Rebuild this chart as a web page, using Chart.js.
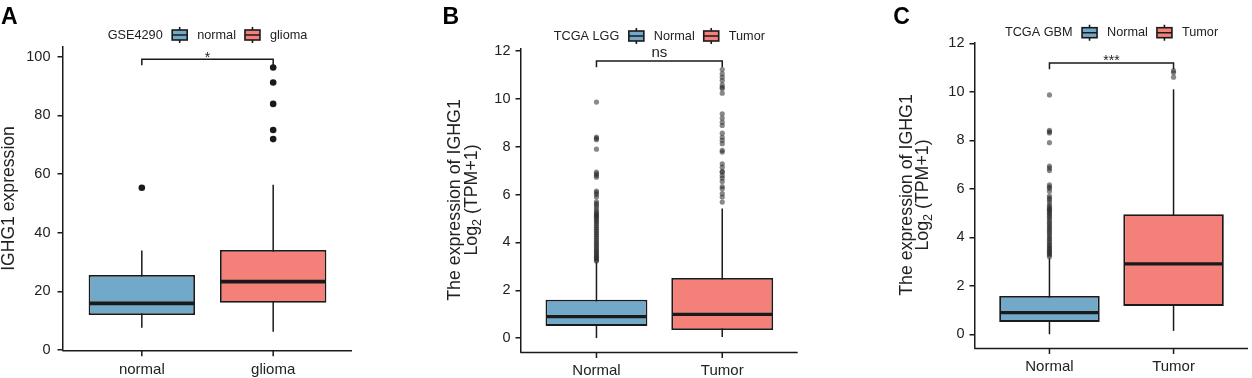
<!DOCTYPE html>
<html>
<head>
<meta charset="utf-8">
<script src="https://cdn.jsdelivr.net/npm/chart.js@4.4.1/dist/chart.umd.min.js"></script>
<style>
html, body { margin: 0; padding: 0; background: #fff; }
#wrap { position: relative; width: 1252px; height: 378px; }
canvas { position: absolute; top: 0; }
</style>
</head>
<body>
<div id="wrap">
  <canvas id="panelA" width="420" height="378" style="left:0px"></canvas>
  <canvas id="panelB" width="420" height="378" style="left:420px"></canvas>
  <canvas id="panelC" width="412" height="378" style="left:840px"></canvas>
</div>
<script>
// ---------- data ----------

// A: GSE4290
const gseCategories = ['normal', 'glioma'];
const gseQ1 = [11.9, 16.1];
const gseMedian = [15.9, 23.3];
const gseQ3 = [25.6, 34.1];
const gseLower = [7.6, 6.2];
const gseUpper = [33.9, 56.3];
const gseOutNormal = [55.3];
const gseOutGlioma = [96.3, 91.2, 83.9, 75.0, 71.9];
const gseYTicks = [0, 20, 40, 60, 80, 100];

// B: TCGA LGG
const lggCategories = ['Normal', 'Tumor'];
const lggQ1 = [0.51, 0.34];
const lggMedian = [0.9, 0.99];
const lggQ3 = [1.6, 2.51];
const lggLower = [0.0, 0.05];
const lggUpper = [3.18, 5.42];
const lggOutNormal = [9.87, 8.41, 8.35, 8.3, 7.9, 6.94, 6.87, 6.8, 6.73, 6.15, 6.08, 6.0, 5.9,
  5.7, 5.62, 5.55, 5.45, 5.34, 5.27, 5.2, 5.15, 5.1, 5.05, 4.98, 4.92, 4.85, 4.78, 4.7, 4.62,
  4.55, 4.47, 4.4, 4.33, 4.25, 4.18, 4.1, 4.02, 3.95, 3.88, 3.8, 3.73, 3.66, 3.6, 3.54, 3.48,
  3.42, 3.37, 3.32, 3.27, 3.22];
const lggOutTumor = [11.23, 11.05, 10.91, 10.77, 10.59, 10.49, 10.43, 10.24, 9.38, 9.2, 9.03,
  8.89, 8.57, 8.4, 8.27, 8.13, 7.85, 7.78, 7.29, 7.15, 6.97, 6.94, 6.8, 6.69, 6.55, 6.34, 6.25,
  6.04, 5.9, 5.69];
const lggYTicks = [0, 2, 4, 6, 8, 10, 12];

// C: TCGA GBM
const gbmCategories = ['Normal', 'Tumor'];
const gbmQ1 = [0.51, 1.17];
const gbmMedian = [0.89, 2.9];
const gbmQ3 = [1.58, 4.95];
const gbmLower = [0.0, 0.14];
const gbmUpper = [3.13, 10.1];
const gbmOutNormal = [9.87, 8.41, 8.35, 8.3, 7.9, 6.94, 6.85, 6.75, 6.16, 6.08, 6.02, 5.9,
  5.7, 5.62, 5.55, 5.45, 5.34, 5.27, 5.2, 5.15, 5.1, 5.05, 4.98, 4.92, 4.85, 4.78, 4.7, 4.62,
  4.55, 4.47, 4.4, 4.33, 4.25, 4.18, 4.1, 4.02, 3.95, 3.88, 3.8, 3.73, 3.66, 3.6, 3.54, 3.48,
  3.42, 3.37, 3.32, 3.27, 3.2];
const gbmOutTumor = [10.87, 10.79, 10.6];
const gbmYTicks = [0, 2, 4, 6, 8, 10, 12];

// ---------- styling ----------
const FONT = "'Liberation Sans', Arial, Helvetica, sans-serif";
const AXIS = '#1a1a1a';
const TEXT = '#222222';
const BLUE = '#72a8c8';
const RED = '#f4807a';

function decorPlugin(p) {
  return {
    id: 'decor' + p.letter,
    beforeDatasetsDraw(chart) {
      const { ctx, chartArea, scales: { x, y } } = chart;
      ctx.save();
      ctx.strokeStyle = AXIS;
      ctx.lineWidth = 1.5;
      // x axis line and its tick marks (ggplot style)
      const ay = chartArea.bottom + 0.75;
      ctx.beginPath();
      ctx.moveTo(chartArea.left - 0.75, ay);
      ctx.lineTo(chartArea.right, ay);
      x.ticks.forEach(t => {
        const tx = x.getPixelForValue(t.value);
        ctx.moveTo(tx, ay);
        ctx.lineTo(tx, ay + 5.5);
      });
      ctx.stroke();
      // whiskers
      p.categories.forEach((c, i) => {
        const px = x.getPixelForValue(i + 1);
        ctx.beginPath();
        ctx.moveTo(px, y.getPixelForValue(p.lower[i]));
        ctx.lineTo(px, y.getPixelForValue(p.upper[i]));
        ctx.stroke();
      });
      ctx.restore();
    },
    afterDatasetsDraw(chart) {
      const { ctx, scales: { y } } = chart;
      const meta = chart.getDatasetMeta(0);
      ctx.save();
      ctx.strokeStyle = AXIS;
      ctx.lineWidth = p.medianWidth;
      meta.data.forEach((bar, i) => {
        const py = y.getPixelForValue(p.median[i]);
        ctx.beginPath();
        ctx.moveTo(bar.x - bar.width / 2 + 1, py);
        ctx.lineTo(bar.x + bar.width / 2 - 1, py);
        ctx.stroke();
      });
      ctx.restore();
    },
    afterDraw(chart) {
      const { ctx, chartArea, scales: { x, y } } = chart;
      ctx.save();

      // significance bracket
      const x1 = x.getPixelForValue(1), x2 = x.getPixelForValue(2);
      const by = y.getPixelForValue(p.bracketY), ty = y.getPixelForValue(p.bracketTip);
      ctx.strokeStyle = AXIS;
      ctx.lineWidth = 1.5;
      ctx.beginPath();
      ctx.moveTo(x1, ty);
      ctx.lineTo(x1, by);
      ctx.lineTo(x2, by);
      ctx.lineTo(x2, ty);
      ctx.stroke();
      ctx.fillStyle = TEXT;
      ctx.font = p.sigSize + 'px ' + FONT;
      ctx.textAlign = 'center';
      ctx.textBaseline = 'alphabetic';
      ctx.fillText(p.sigLabel, (x1 + x2) / 2, by + p.sigDy);

      // legend
      ctx.font = '12.7px ' + FONT;
      ctx.textBaseline = 'middle';
      ctx.textAlign = 'left';
      const iconW = 15;
      const wTitle = ctx.measureText(p.legendTitle).width;
      const w1 = ctx.measureText(p.categories[0]).width;
      const w2 = ctx.measureText(p.categories[1]).width;
      const total = wTitle + 9.5 + iconW + 10 + w1 + 9 + iconW + 10 + w2;
      let lx = (chartArea.left + chartArea.right) / 2 - total / 2;
      const ly = p.legendY;
      ctx.fillText(p.legendTitle, lx, ly);
      lx += wTitle + 9.5;
      [0, 1].forEach(i => {
        const cx = lx + iconW / 2;
        ctx.fillStyle = p.fills[i];
        ctx.fillRect(lx, ly - 5, iconW, 10);
        ctx.strokeStyle = AXIS;
        ctx.lineWidth = 1.6;
        ctx.strokeRect(lx, ly - 5, iconW, 10);
        ctx.beginPath();
        ctx.moveTo(lx, ly); ctx.lineTo(lx + iconW, ly);
        ctx.moveTo(cx, ly - 5); ctx.lineTo(cx, ly - 8);
        ctx.moveTo(cx, ly + 5); ctx.lineTo(cx, ly + 8);
        ctx.stroke();
        lx += iconW + 10;
        ctx.fillStyle = TEXT;
        ctx.fillText(p.categories[i], lx, ly);
        lx += (i === 0 ? w1 : w2) + 9;
      });

      // y axis title (rotated)
      const cy = (chartArea.top + chartArea.bottom) / 2;
      p.yTitle.forEach((line, li) => {
        const bx = chartArea.left - p.yTitleOffsets[li];
        ctx.save();
        ctx.translate(bx, cy);
        ctx.rotate(-Math.PI / 2);
        ctx.fillStyle = TEXT;
        ctx.textBaseline = 'alphabetic';
        ctx.textAlign = 'left';
        const parts = line.map(part => {
          ctx.font = (part.sub ? 12.5 : p.titleSize) + 'px ' + FONT;
          return { ...part, w: ctx.measureText(part.t).width };
        });
        let tx = -parts.reduce((s, q) => s + q.w, 0) / 2;
        parts.forEach(part => {
          ctx.font = (part.sub ? 12.5 : p.titleSize) + 'px ' + FONT;
          ctx.fillText(part.t, tx, part.sub ? 4 : 0);
          tx += part.w;
        });
        ctx.restore();
      });

      // panel letter
      ctx.fillStyle = '#000';
      ctx.font = 'bold 23px ' + FONT;
      ctx.textAlign = 'left';
      ctx.textBaseline = 'alphabetic';
      ctx.fillText(p.letter, p.letterX, 24);

      ctx.restore();
    }
  };
}

function buildPanel(canvasId, p) {
  const datasets = [{
    type: 'bar',
    data: p.categories.map((c, i) => ({ x: i + 1, y: [p.q1[i], p.q3[i]] })),
    backgroundColor: p.fills,
    borderColor: AXIS,
    borderWidth: 1.8,
    borderSkipped: false,
    barPercentage: 0.81,
    categoryPercentage: 1,
    order: 2
  }];
  p.outliers.forEach((vals, i) => {
    datasets.push({
      type: 'scatter',
      data: vals.map(v => ({ x: i + 1, y: v })),
      pointRadius: p.pointRadius,
      pointBackgroundColor: p.pointColor,
      pointBorderWidth: 0,
      order: 1
    });
  });

  return new Chart(document.getElementById(canvasId), {
    type: 'bar',
    data: { datasets },
    options: {
      responsive: false,
      animation: false,
      events: [],
      layout: { padding: p.padding },
      plugins: { legend: { display: false }, tooltip: { enabled: false } },
      scales: {
        x: {
          type: 'linear',
          min: 0.4,
          max: 2.6,
          offset: false,
          afterBuildTicks: s => { s.ticks = [1, 2].map(v => ({ value: v })); },
          afterFit: s => { s.height = p.xAxisHeight; },
          grid: { display: false, offset: false, drawOnChartArea: false, drawTicks: true, tickLength: 5.5 },
          border: { display: false },
          ticks: {
            autoSkip: false, maxRotation: 0, padding: 5, color: TEXT,
            font: { family: FONT, size: 15 },
            callback: v => p.categories[v - 1]
          }
        },
        y: {
          min: p.yMin,
          max: p.yMax,
          afterBuildTicks: s => { s.ticks = p.yTicks.map(v => ({ value: v })); },
          afterFit: s => { s.width = 50; },
          grid: { display: true, drawOnChartArea: false, drawTicks: true, tickLength: 5.5, color: AXIS, lineWidth: 1.5 },
          border: { display: true, color: AXIS, width: 1.5 },
          ticks: {
            padding: p.tickPad, color: TEXT,
            font: { family: FONT, size: 14.5 },
            callback: v => String(v)
          }
        }
      }
    },
    plugins: [decorPlugin(p)]
  });
}

const logTitle = [
  [{ t: 'The expression of IGHG1' }],
  [{ t: 'Log' }, { t: '2', sub: true }, { t: ' (TPM+1)' }]
];

buildPanel('panelA', {
  letter: 'A', letterX: 1,
  categories: gseCategories, fills: [BLUE, RED],
  q1: gseQ1, median: gseMedian, q3: gseQ3, lower: gseLower, upper: gseUpper,
  outliers: [gseOutNormal, gseOutGlioma], pointRadius: 3.3, pointColor: '#1a1a1a',
  yMin: 0, yMax: 103.3, yTicks: gseYTicks, tickPad: 7,
  padding: { left: 13, right: 68, top: 47, bottom: 0 }, xAxisHeight: 28,
  medianWidth: 3.8,
  bracketY: 99.1, bracketTip: 97.1, sigLabel: '*', sigSize: 14, sigDy: 2.5,
  legendTitle: 'GSE4290', legendY: 35,
  yTitle: [[{ t: 'IGHG1 expression' }]], yTitleOffsets: [49], titleSize: 17.6
});

buildPanel('panelB', {
  letter: 'B', letterX: 22.5,
  categories: lggCategories, fills: [BLUE, RED],
  q1: lggQ1, median: lggMedian, q3: lggQ3, lower: lggLower, upper: lggUpper,
  outliers: [lggOutNormal, lggOutTumor], pointRadius: 2.6, pointColor: 'rgba(40,40,40,0.55)',
  yMin: -0.57, yMax: 12.12, yTicks: lggYTicks, tickPad: 5,
  padding: { left: 51, right: 42.3, top: 48.3, bottom: 0 }, xAxisHeight: 26.3,
  medianWidth: 3.2,
  bracketY: 11.59, bracketTip: 11.33, sigLabel: 'ns', sigSize: 15, sigDy: -3.5,
  legendTitle: 'TCGA LGG', legendY: 36,
  yTitle: logTitle, yTitleOffsets: [61.5, 44.5], titleSize: 17.8
});

buildPanel('panelC', {
  letter: 'C', letterX: 53.3,
  categories: gbmCategories, fills: [BLUE, RED],
  q1: gbmQ1, median: gbmMedian, q3: gbmQ3, lower: gbmLower, upper: gbmUpper,
  outliers: [gbmOutNormal, gbmOutTumor], pointRadius: 2.6, pointColor: 'rgba(40,40,40,0.55)',
  yMin: -0.553, yMax: 12.04, yTicks: gbmYTicks, tickPad: 5,
  padding: { left: 85, right: 1, top: 42.3, bottom: 0 }, xAxisHeight: 30.3,
  medianWidth: 3.2,
  bracketY: 11.19, bracketTip: 10.93, sigLabel: '***', sigSize: 14, sigDy: 2,
  legendTitle: 'TCGA GBM', legendY: 32.7,
  yTitle: logTitle, yTitleOffsets: [63.3, 46.7], titleSize: 17.8
});
</script>
</body>
</html>
